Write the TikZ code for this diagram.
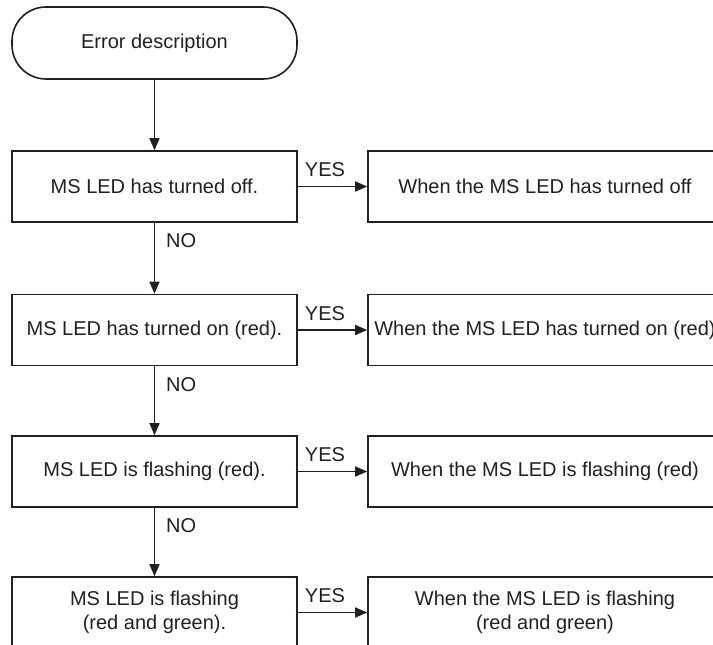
\documentclass[tikz,border=0pt]{standalone}
\usepackage{fontspec}
\setmainfont{Liberation Sans}
\usetikzlibrary{arrows.meta}
\definecolor{ink}{RGB}{35,31,32}
\begin{document}
\begin{tikzpicture}[x=1pt,y=-1pt,
  every node/.style={font=\fontsize{20}{24}\selectfont, text=ink},
  lbox/.style={draw=ink, line width=1.6pt, minimum width=285pt, minimum height=71pt, inner sep=0pt, align=center},
  rbox/.style={draw=ink, line width=1.6pt, minimum width=354pt, minimum height=71pt, inner sep=0pt, align=center},
  startbox/.style={draw=ink, line width=1.6pt, rounded corners=34pt, minimum width=285pt, minimum height=72pt, inner sep=0pt},
  flow/.style={draw=ink, line width=1.6pt, -{Triangle[length=12pt,width=10pt]}},
  lab/.style={inner sep=0pt}
]
\useasboundingbox (0,0) rectangle (713,645);
\clip (0,0) rectangle (713,645);

\node[startbox] (s) at (154.5,43) {Error description};

\node[lbox] (b1) at (154.5,186.5) {MS LED has turned off.};
\node[lbox] (b2) at (154.5,330) {MS LED has turned on (red).};
\node[lbox] (b3) at (154.5,471.5) {MS LED is flashing (red).};
\node[lbox] (b4) at (154.5,612.5) {MS LED is flashing\\(red and green).};

\node[rbox] (r1) at (545,186.5) {When the MS LED has turned off};
\node[rbox] (r2) at (545,330) {When the MS LED has turned on (red)};
\node[rbox] (r3) at (545,471.5) {When the MS LED is flashing (red)};
\node[rbox] (r4) at (545,612.5) {When the MS LED is flashing\\(red and green)};

\draw[flow] (s) -- (b1);
\draw[flow] (b1) -- (b2);
\draw[flow] (b2) -- (b3);
\draw[flow] (b3) -- (b4);

\draw[flow] (b1) -- (r1);
\draw[flow] (b2) -- (r2);
\draw[flow] (b3) -- (r3);
\draw[flow] (b4) -- (r4);

\node[lab] (y1) at (325,170) {YES};
\node[lab] (y2) at (325,313.5) {YES};
\node[lab] (y3) at (325,455) {YES};
\node[lab] (y4) at (325,596) {YES};

\node[lab, anchor=west] (n1) at (166,241) {NO};
\node[lab, anchor=west] (n2) at (166,385) {NO};
\node[lab, anchor=west] (n3) at (166,526) {NO};
\end{tikzpicture}
\end{document}
